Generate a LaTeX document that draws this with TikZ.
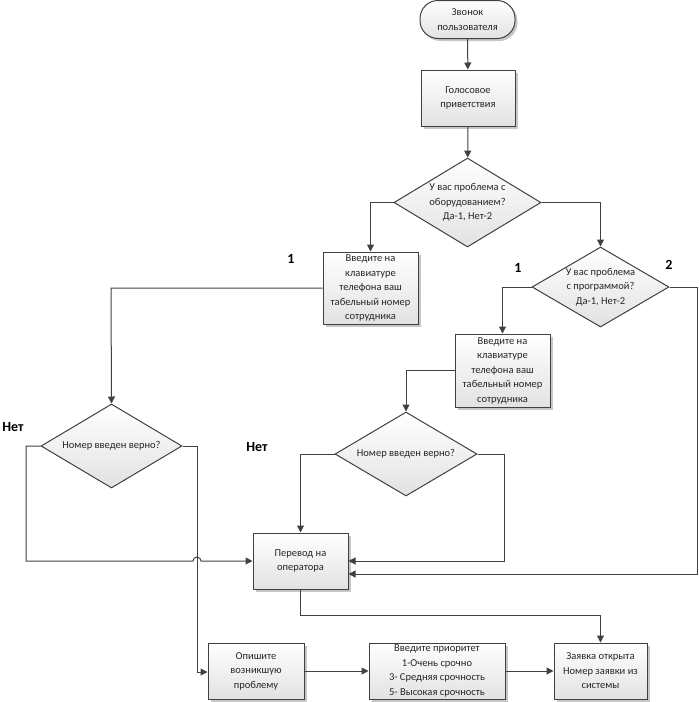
\documentclass[tikz,border=0pt]{standalone}
\usepackage{fontspec}
\setmainfont{Carlito}
\usetikzlibrary{arrows.meta,shapes.geometric,shadows}
\definecolor{ln}{HTML}{404040}
\definecolor{fl}{HTML}{E2E2E2}
\definecolor{tx}{HTML}{262626}
\begin{document}
\begin{tikzpicture}[x=1pt,y=-1pt,
  every node/.style={font=\fontsize{10.5}{14.5}\selectfont, text=tx},
  proc/.style={draw=ln, line width=1pt, top color=white, bottom color=fl, align=center, inner sep=0pt,
    drop shadow={shadow xshift=2.5pt,shadow yshift=-2.5pt,fill=black,opacity=0.22}},
  term/.style={proc, rounded corners=18pt},
  dia/.style={diamond, draw=ln, line width=1pt, top color=white, bottom color=fl, inner sep=0pt},
  dtext/.style={align=center},
  lbl/.style={font=\fontsize{14}{16}\selectfont\bfseries, text=black},
  conn/.style={draw=ln, line width=1pt, -{Triangle[length=7pt,width=7pt]}},
  plain/.style={draw=ln, line width=1pt}
]
\useasboundingbox (0,0) rectangle (699,702);

% nodes
\node[term, minimum width=95pt, minimum height=38pt] (start) at (467.5,19.5) {Звонок\\пользователя};
\node[proc, minimum width=94pt, minimum height=56pt] (greet) at (468,98) {Голосовое\\приветствия};
\node[dia, minimum width=147pt, minimum height=89pt] (d1) at (467.5,202.5) {};
\node[dtext] at (d1) {У вас проблема с\\оборудованием?\\Да-1, Нет-2};
\node[proc, minimum width=95pt, minimum height=72pt] (b1) at (370.5,288) {Введите на\\клавиатуре\\телефона ваш\\табельный номер\\сотрудника};
\node[dia, minimum width=137pt, minimum height=80pt] (d2) at (600.5,287) {};
\node[dtext] at (d2) {У вас проблема\\с программой?\\Да-1, Нет-2};
\node[proc, minimum width=95pt, minimum height=73pt] (b2) at (502.5,370.5) {Введите на\\клавиатуре\\телефона ваш\\табельный номер\\сотрудника};
\node[dia, minimum width=142pt, minimum height=84pt] (d3) at (406,454) {};
\node[dtext] at (d3) {Номер введен верно?};
\node[dia, minimum width=141pt, minimum height=84pt] (d4) at (111.5,446) {};
\node[dtext] at (d4) {Номер введен верно?};
\node[proc, minimum width=95pt, minimum height=56pt] (b3) at (300.5,561) {Перевод на\\оператора};
\node[proc, minimum width=96pt, minimum height=56pt] (b4) at (256,671) {Опишите\\возникшую\\проблему};
\node[proc, minimum width=136pt, minimum height=56pt] (b5) at (437,671) {Введите приоритет\\1-Очень срочно\\3- Средняя срочность\\5- Высокая срочность};
\node[proc, minimum width=93pt, minimum height=56pt] (b6) at (600.5,671) {Заявка открыта\\Номер заявки из\\системы};

% labels
\node[lbl] (l1) at (291,259) {1};
\node[lbl] (l2) at (518,268) {1};
\node[lbl] (l3) at (669,265) {2};
\node[lbl] (l4) at (13,427) {Нет};
\node[lbl] (l5) at (257,447) {Нет};

% connector bend points
\coordinate (c1) at (111,288);
\coordinate (c2) at (26,446);
\coordinate (c3) at (26,561);
\coordinate (c4) at (193,561);
\coordinate (c5) at (197,446);
\coordinate (c6) at (197,672);
\coordinate (c7) at (504,454);
\coordinate (c8) at (697,287);
\coordinate (c9) at (697,574);
\coordinate (c10) at (300.5,615);

% connectors
\draw[conn] (start) -- (greet);
\draw[conn] (greet) -- (d1);
\draw[conn] (d1.west) -| (b1.north);
\draw[conn] (d1.east) -| (d2.north);
\draw[conn] (d2.west) -| (b2.north);
\draw[conn] (b2.west) -| (d3.north);
\draw[conn] (b1.west) -- (c1) -- (d4.north);
\draw[conn] (d4.west) -- (c2) -- (c3) -- (c4) arc[start angle=180, end angle=0, radius=4pt] -- (b3.west);
\draw[conn] (d4.east) -- (c5) -- (c6) -- (b4.west |- c6);
\draw[conn] (d3.west) -| (b3.north);
\draw[conn] (d3.east) -- (c7) |- (b3.east);
\draw[conn] (d2.east) -- (c8) -- (c9) -- (b3.east |- c9);
\draw[conn] (b3.south) -- (c10) -| (b6.north);
\draw[conn] (b4.east) -- (b5.west);
\draw[conn] (b5.east) -- (b6.west);
\end{tikzpicture}
\end{document}
